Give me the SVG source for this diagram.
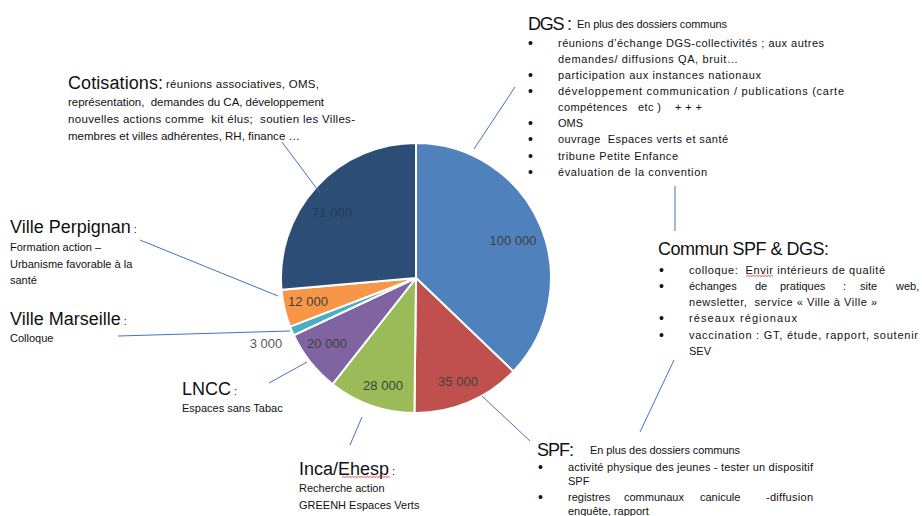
<svg xmlns="http://www.w3.org/2000/svg" width="922" height="516" viewBox="0 0 922 516">
<defs>
<style>
text{font-family:"Liberation Sans",Arial,sans-serif;fill:#111}
.h{font-size:18px}
.s{font-size:11px}
.c{font-size:11.5px}
.b{font-size:14px}
.v{font-size:13px;fill:#404040;text-anchor:middle}
.sl{stroke:#fff;stroke-width:2}
.ld{stroke:#4472C4;stroke-width:1;fill:none}
.sq{stroke:#e02020;stroke-width:0.8;fill:none}
</style>
</defs>
<rect width="922" height="516" fill="#fff"/>
<g id="pie">
<path id="slice-dgs" class="sl" fill="#4F81BD" d="M416,278 L416,143 A135,135 0 0 1 513.40,371.47 Z"/>
<path id="slice-spf" class="sl" fill="#C0504D" d="M416,278 L513.40,371.47 A135,135 0 0 1 414.42,412.99 Z"/>
<path id="slice-inca" class="sl" fill="#9BBB59" d="M416,278 L414.42,412.99 A135,135 0 0 1 332.62,384.18 Z"/>
<path id="slice-lncc" class="sl" fill="#8064A2" d="M416,278 L332.62,384.18 A135,135 0 0 1 293.74,335.25 Z"/>
<path id="slice-marseille" class="sl" fill="#4BACC6" d="M416,278 L293.74,335.25 A135,135 0 0 1 290.03,326.56 Z"/>
<path id="slice-perpignan" class="sl" fill="#F79646" d="M416,278 L290.03,326.56 A135,135 0 0 1 281.52,289.81 Z"/>
<path id="slice-cotisations" class="sl" fill="#2C4D75" d="M416,278 L281.52,289.81 A135,135 0 0 1 416,143 Z"/>
<text class="v" x="513" y="245">100 000</text>
<text class="v" x="458" y="386">35 000</text>
<text class="v" x="383" y="390">28 000</text>
<text class="v" x="327" y="348">20 000</text>
<text class="v" x="308" y="306">12 000</text>
<text class="v" x="332" y="217" style="fill:#243a58">71 000</text>
<text class="v" x="266" y="348" style="fill:#595959">3 000</text>
</g>
<g id="connectors">
<line class="ld" x1="474" y1="149" x2="515" y2="87"/>
<line class="ld" x1="320" y1="193" x2="282" y2="142"/>
<line class="ld" x1="140" y1="240" x2="278" y2="296"/>
<line class="ld" x1="118" y1="336" x2="290" y2="331"/>
<line class="ld" x1="269" y1="383" x2="307" y2="362"/>
<line class="ld" x1="362" y1="417" x2="350" y2="445"/>
<line class="ld" x1="482" y1="396" x2="530" y2="441"/>
<line class="ld" x1="675" y1="186" x2="675" y2="231"/>
<line class="ld" x1="674" y1="360" x2="640" y2="432"/>
</g>
<g id="dgs">
<text class="h" x="528" y="30" textLength="44">DGS :</text>
<text class="s" x="577" y="28" textLength="150">En plus des dossiers communs</text>
<g class="s">
<text class="b" x="528" y="48">•</text><text x="558" y="47" textLength="266">réunions d’échange DGS-collectivités ; aux autres</text>
<text x="558" y="63" textLength="180">demandes/ diffusions QA, bruit…</text>
<text class="b" x="528" y="80">•</text><text x="558" y="79" textLength="203">participation aux instances nationaux</text>
<text class="b" x="528" y="96">•</text><text x="558" y="95" textLength="286">développement communication / publications (carte</text>
<text x="558" y="111" textLength="144" xml:space="preserve">compétences   etc )    + + +</text>
<text class="b" x="528" y="128">•</text><text x="558" y="127">OMS</text>
<text class="b" x="528" y="144">•</text><text x="558" y="143" textLength="170" xml:space="preserve">ouvrage  Espaces verts et santé</text>
<text class="b" x="528" y="161">•</text><text x="558" y="160" textLength="120">tribune Petite Enfance</text>
<text class="b" x="528" y="177">•</text><text x="558" y="176" textLength="149">évaluation de la convention</text>
</g>
</g>
<g id="commun">
<text class="h" x="658" y="255" textLength="171">Commun SPF &amp; DGS:</text>
<g class="s">
<text class="b" x="659" y="275">•</text><text x="689" y="274" textLength="196" xml:space="preserve">colloque:  Envir intérieurs de qualité</text>
<path class="sq" d="M746,276.5 l1.5,-1.2 l1.5,1.2 l1.5,-1.2 l1.5,1.2 l1.5,-1.2 l1.5,1.2 l1.5,-1.2 l1.5,1.2 l1.5,-1.2 l1.5,1.2 l1.5,-1.2 l1.5,1.2 l1.5,-1.2 l1.5,1.2 l1.5,-1.2 l1.5,1.2 l1.5,-1.2 l1.5,1.2"/>
<text class="b" x="659" y="291">•</text><text y="290"><tspan x="689">échanges</tspan><tspan x="755">de</tspan><tspan x="780">pratiques</tspan><tspan x="843">:</tspan><tspan x="860">site</tspan><tspan x="896">web,</tspan></text>
<text x="689" y="306" textLength="188" xml:space="preserve">newsletter,  service « Ville à Ville »</text>
<text class="b" x="659" y="323">•</text><text x="689" y="322" textLength="108">réseaux régionaux</text>
<text class="b" x="659" y="340">•</text><text x="689" y="339" textLength="229">vaccination : GT, étude, rapport, soutenir</text>
<text x="689" y="355">SEV</text>
</g>
</g>
<g id="spf">
<text class="h" x="537" y="456" textLength="37">SPF:</text>
<text class="s" x="590" y="454" textLength="150">En plus des dossiers communs</text>
<g class="s">
<text class="b" x="538" y="472">•</text><text x="568" y="471" textLength="245">activité physique des jeunes - tester un dispositif</text>
<text x="568" y="485">SPF</text>
<text class="b" x="538" y="502">•</text><text y="501"><tspan x="568">registres</tspan><tspan x="624">communaux</tspan><tspan x="700">canicule</tspan><tspan x="766" textLength="47">-diffusion</tspan></text>
<text x="568" y="515">enquête, rapport</text>
</g>
</g>
<g id="cotisations">
<text class="h" x="68" y="89" textLength="95">Cotisations:</text>
<text class="c" x="166" y="88" textLength="153">réunions associatives, OMS,</text>
<g class="c">
<text x="68" y="106" textLength="256" xml:space="preserve">représentation,  demandes du CA, développement</text>
<text x="68" y="123" textLength="287" xml:space="preserve">nouvelles actions comme  kit élus;  soutien les Villes-</text>
<text x="68" y="140" textLength="232">membres et villes adhérentes, RH, finance …</text>
</g>
</g>
<g id="perpignan">
<text x="10" y="233"><tspan class="h">Ville Perpignan</tspan><tspan class="s"> :</tspan></text>
<g class="s">
<text x="10" y="251">Formation action –</text>
<text x="10" y="268">Urbanisme favorable à la</text>
<text x="10" y="284">santé</text>
</g>
</g>
<g id="marseille">
<text x="10" y="325"><tspan class="h">Ville Marseille</tspan><tspan class="s"> :</tspan></text>
<text class="s" x="10" y="342">Colloque</text>
</g>
<g id="lncc">
<text x="182" y="395"><tspan class="h">LNCC</tspan><tspan class="s"> :</tspan></text>
<text class="s" x="182" y="412">Espaces sans Tabac</text>
</g>
<g id="inca">
<text x="299" y="475"><tspan class="h">Inca/Ehesp</tspan><tspan class="s"> :</tspan></text>
<path class="sq" d="M342,477.5 l1.5,-1.2 l1.5,1.2 l1.5,-1.2 l1.5,1.2 l1.5,-1.2 l1.5,1.2 l1.5,-1.2 l1.5,1.2 l1.5,-1.2 l1.5,1.2 l1.5,-1.2 l1.5,1.2 l1.5,-1.2 l1.5,1.2 l1.5,-1.2 l1.5,1.2 l1.5,-1.2 l1.5,1.2 l1.5,-1.2 l1.5,1.2 l1.5,-1.2 l1.5,1.2 l1.5,-1.2 l1.5,1.2 l1.5,-1.2 l1.5,1.2 l1.5,-1.2 l1.5,1.2 l1.5,-1.2 l1.5,1.2 l1.5,-1.2 l1.5,1.2"/>
<g class="s">
<text x="299" y="492">Recherche action</text>
<text x="299" y="509">GREENH Espaces Verts</text>
</g>
</g>
</svg>
